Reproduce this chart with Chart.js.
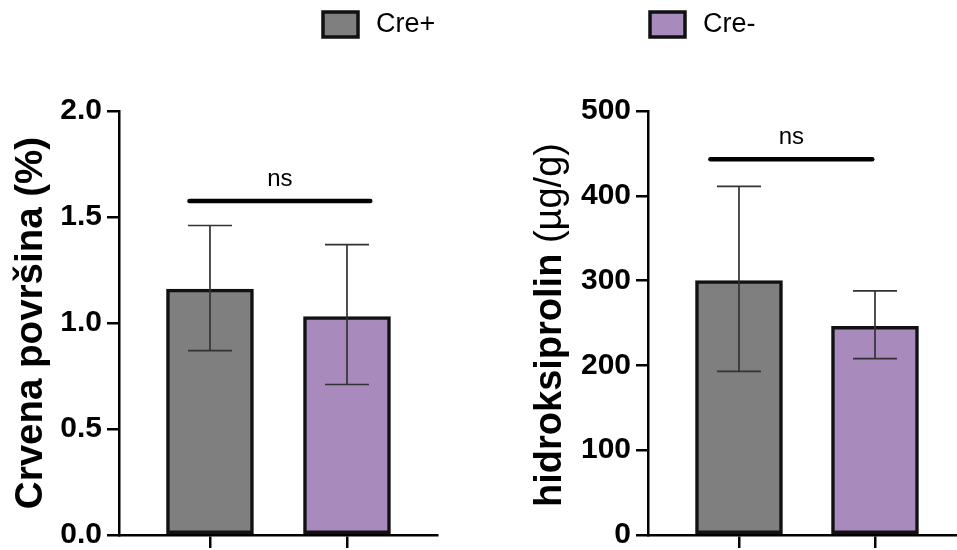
<!DOCTYPE html>
<html>
<head>
<meta charset="utf-8">
<script src="https://cdn.jsdelivr.net/npm/chart.js@4"></script>
<style>
  html, body { margin: 0; padding: 0; background: #fff; }
  #wrap { position: relative; width: 957px; height: 550px; }
  #wrap canvas { position: absolute; left: 0; top: 0; }
</style>
</head>
<body>
<div id="wrap">
  <canvas id="leftChart" width="957" height="550"></canvas>
  <canvas id="rightChart" width="957" height="550"></canvas>
</div>
<script>
// grupe i boje
const groups = ['Cre+', 'Cre-'];
const groupColors = ['#7f7f7f', '#a98abc'];

// lijevi panel: crvena površina (%)
const areaMean = [1.16, 1.03];
const areaLow = [0.87, 0.71];
const areaHigh = [1.46, 1.37];
const areaTicks = [0, 0.5, 1.0, 1.5, 2.0];
const areaBracket = [0.85, 2.17, 1.575]; // od, do, razina

// desni panel: hidroksiprolin (µg/g)
const hypMean = [300, 246];
const hypLow = [193, 208];
const hypHigh = [411, 288];
const hypTicks = [0, 100, 200, 300, 400, 500];
const hypBracket = [0.79, 1.98, 443];

const FONT = '"Liberation Sans", Arial, Helvetica, sans-serif';
Chart.defaults.font.family = FONT;
Chart.defaults.color = '#000';

// error bars + "ns" linija
const errorBars = {
  id: 'errorBars',
  afterDatasetsDraw(chart, args, opts) {
    const { ctx } = chart;
    const x = chart.scales.x, y = chart.scales.y;
    ctx.save();
    ctx.strokeStyle = '#333';
    ctx.lineWidth = 1.7;
    opts.low.forEach((lo, i) => {
      const cx = x.getPixelForValue(i + 1);
      const y1 = y.getPixelForValue(lo);
      const y2 = y.getPixelForValue(opts.high[i]);
      ctx.beginPath();
      ctx.moveTo(cx, y1); ctx.lineTo(cx, y2);
      ctx.moveTo(cx - 22, y1); ctx.lineTo(cx + 22, y1);
      ctx.moveTo(cx - 22, y2); ctx.lineTo(cx + 22, y2);
      ctx.stroke();
    });
    const b = opts.bracket;
    const bx1 = x.getPixelForValue(b[0]);
    const bx2 = x.getPixelForValue(b[1]);
    const by = y.getPixelForValue(b[2]);
    ctx.strokeStyle = '#000';
    ctx.lineWidth = 4.5;
    ctx.lineCap = 'round';
    ctx.beginPath(); ctx.moveTo(bx1, by); ctx.lineTo(bx2, by); ctx.stroke();
    ctx.fillStyle = '#000';
    ctx.font = '24px ' + FONT;
    ctx.textAlign = 'center';
    ctx.textBaseline = 'alphabetic';
    ctx.fillText('ns', (bx1 + bx2) / 2, by - 15);
    ctx.restore();
  }
};

// legenda u gornjem redu
const legendRow = {
  id: 'legendRow',
  afterDraw(chart, args, opts) {
    if (!opts.show) return;
    const { ctx } = chart;
    ctx.save();
    ctx.font = '27px ' + FONT;
    ctx.textBaseline = 'middle';
    ctx.textAlign = 'left';
    groups.forEach((g, i) => {
      const lx = opts.x[i];
      ctx.fillStyle = groupColors[i];
      ctx.fillRect(lx, 12, 35, 25);
      ctx.strokeStyle = '#111';
      ctx.lineWidth = 3.5;
      ctx.strokeRect(lx, 12, 35, 25);
      ctx.fillStyle = '#000';
      ctx.fillText(g, lx + 53, 25);
    });
    ctx.restore();
  }
};

// naslov osi s dva stila (bold + regular)
const splitTitle = {
  id: 'splitTitle',
  afterDraw(chart, args, opts) {
    if (!opts.parts) return;
    const { ctx } = chart;
    const y = chart.scales.y;
    const fonts = opts.parts.map(p => p[1] + ' ' + opts.size + 'px ' + FONT);
    ctx.save();
    const widths = opts.parts.map((p, i) => { ctx.font = fonts[i]; return ctx.measureText(p[0]).width; });
    const total = widths.reduce((a, b) => a + b, 0);
    ctx.translate(y.left + opts.offset, (y.top + y.bottom) / 2 + opts.shift);
    ctx.rotate(-Math.PI / 2);
    ctx.fillStyle = '#000';
    ctx.textBaseline = 'middle';
    ctx.textAlign = 'left';
    let cx = -total / 2;
    opts.parts.forEach((p, i) => {
      ctx.font = fonts[i];
      ctx.fillText(p[0], cx, 0);
      cx += widths[i];
    });
    ctx.restore();
  }
};

function makePanel(id, means, low, high, ticks, bracket, yMax, title, titleParts, fmt, xMin, xMax, pad, axisW, titlePad, legend) {
  const ctx = document.getElementById(id).getContext('2d');
  return new Chart(ctx, {
    type: 'bar',
    data: {
      datasets: groups.map((g, i) => ({
        label: g,
        data: [{ x: i + 1, y: means[i] }],
        backgroundColor: groupColors[i],
        borderColor: '#111',
        borderWidth: 3.5,
        borderSkipped: false,
        barThickness: 87,
        grouped: false
      }))
    },
    options: {
      responsive: false,
      animation: false,
      devicePixelRatio: 1,
      layout: { padding: pad },
      plugins: {
        legend: { display: false },
        tooltip: { enabled: false },
        errorBars: { low: low, high: high, bracket: bracket },
        legendRow: { show: legend, x: [323, 650] },
        splitTitle: { parts: titleParts, size: 38, offset: 71, shift: 2 }
      },
      scales: {
        x: {
          type: 'linear',
          min: xMin,
          max: xMax,
          offset: false,
          afterBuildTicks: s => { s.ticks = groups.map((g, i) => ({ value: i + 1 })); },
          afterFit: s => { s.height = 15; },
          ticks: { display: false },
          grid: { offset: false, drawOnChartArea: false, drawTicks: true, tickLength: 13, color: '#000', lineWidth: 2.5 },
          border: { color: '#000', width: 2.5 }
        },
        y: {
          min: 0,
          max: yMax,
          afterBuildTicks: s => { s.ticks = ticks.map(v => ({ value: v })); },
          afterFit: s => { s.width = axisW; s.paddingTop = 0; s.paddingBottom = 0; },
          ticks: {
            callback: v => fmt(v),
            color: '#000',
            padding: 5,
            font: { size: 30, weight: 'bold' }
          },
          grid: { drawOnChartArea: false, drawTicks: true, tickLength: 12, color: '#000', lineWidth: 2.5 },
          border: { color: '#000', width: 2.5 },
          title: {
            display: !!title,
            text: title,
            color: '#000',
            font: { size: 38.5, weight: 'bold' },
            padding: { top: titlePad, bottom: 0 }
          }
        }
      }
    },
    plugins: [errorBars, legendRow, splitTitle]
  });
}

makePanel('leftChart', areaMean, areaLow, areaHigh, areaTicks, areaBracket, 2.0,
  'Crvena površina (%)', null, v => v.toFixed(1), 0.336, 2.657,
  { left: 0, right: 520, top: 111, bottom: 0 }, 119, 8, true);

makePanel('rightChart', hypMean, hypLow, hypHigh, hypTicks, hypBracket, 500,
  '', [['hidroksiprolin ', 'bold'], ['(µg/g)', 'normal']], v => String(v), 0.331, 2.603,
  { left: 480, right: 0, top: 111, bottom: 0 }, 168, 49, false);
</script>
</body>
</html>
